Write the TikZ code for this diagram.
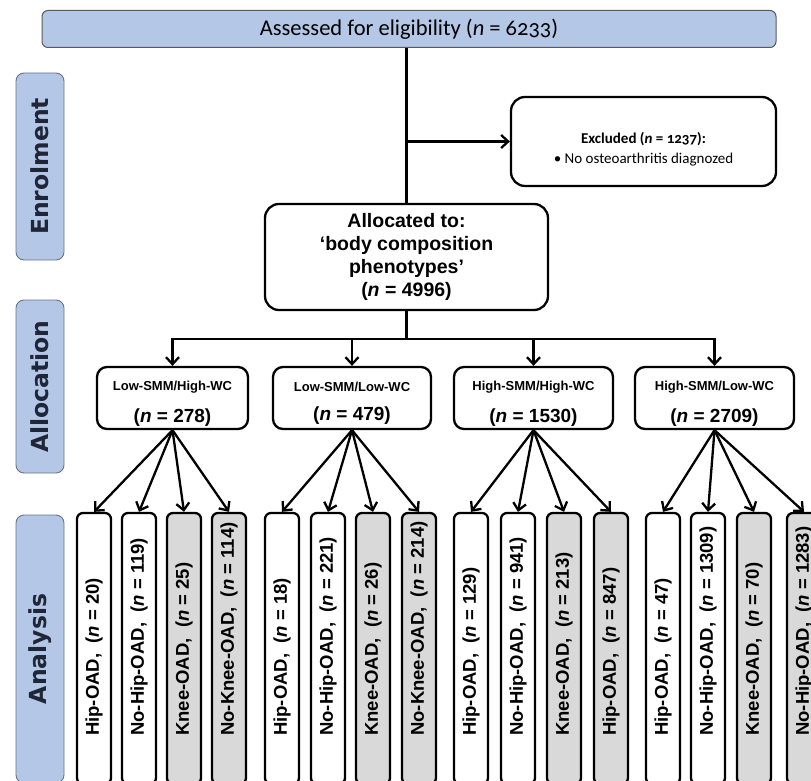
\documentclass[tikz,border=0pt]{standalone}
\usepackage{fontspec}
\usetikzlibrary{arrows.meta,calc}
\newfontfamily\calfont{Carlito}[Numbers=OldStyle]
\newfontfamily\arfont{Liberation Sans}
\newfontfamily\djfont{DejaVu Sans}
\definecolor{sideblue}{RGB}{180,199,231}
\definecolor{sideedge}{RGB}{105,115,135}
\definecolor{sidetext}{RGB}{31,38,55}
\definecolor{leafgray}{RGB}{217,217,217}
\definecolor{topedge}{RGB}{90,90,90}

\begin{document}
\begin{tikzpicture}[x=1pt,y=-1pt,
  ln/.style={line width=2.3pt},
  arr/.style={line width=2.3pt,-{Straight Barb[length=7pt,width=13pt]}},
  topbox/.style={draw=topedge,line width=1pt,fill=sideblue,rounded corners=6pt,
    minimum width=734pt,minimum height=37pt,inner sep=0pt,
    font=\calfont\fontsize{22.5}{22.5}\selectfont},
  sidebox/.style={draw=sideedge,line width=0.9pt,fill=sideblue,rounded corners=8pt,
    rotate=90,minimum height=48pt,inner sep=0pt,text=sidetext,
    font=\djfont\bfseries\fontsize{23.5}{23.5}\selectfont},
  whitebox/.style={draw=black,line width=2.3pt,fill=white,inner sep=0pt},
  grpbox/.style={whitebox,rounded corners=10pt,minimum height=62pt},
  grptxt/.style={align=center,inner sep=0pt,font=\arfont\bfseries},
  leafbox/.style={draw=black,line width=2.3pt,rounded corners=6pt,
    minimum width=34pt,minimum height=271pt,inner sep=0pt},
  leaftext/.style={rotate=90,anchor=west,inner sep=0pt,
    font=\arfont\bfseries\fontsize{18.5}{18.5}\selectfont},
]
\useasboundingbox (0,0) rectangle (811,781);
\clip (0,0) rectangle (811,781);

% top
\node[topbox] (top) at (409,29) {Assessed for eligibility (\textit{n} = 6233)};

% side labels
\node[sidebox,minimum width=187pt] (enr) at (40,166.5) {Enrolment};
\node[sidebox,minimum width=173pt] (allo) at (40,386.5) {Allocation};
\node[sidebox,minimum width=268pt] (ana) at (40,649) {Analysis};

% excluded
\node[whitebox,rounded corners=14pt,minimum width=265pt,minimum height=89pt] (excl) at (643.5,141.5) {};
\node[align=center,inner sep=0pt,font=\calfont\fontsize{15}{19.5}\selectfont] (exclt) at (643.5,149)
  {\textbf{Excluded (\textit{n} = 1237):}\\\textbullet{} No osteoarthritis diagnozed};

% allocated
\node[whitebox,rounded corners=14pt,minimum width=283pt,minimum height=106pt,align=center,
  font=\arfont\bfseries\fontsize{19.5}{22.7}\selectfont] (alloc) at (406.5,257)
  {Allocated to:\\‘body composition\\phenotypes’\\(\textit{n} = 4996)};

% group boxes
\newcommand{\grptext}[2]{{\fontsize{13}{13}\selectfont #1}\\[14pt]{\fontsize{19}{19}\selectfont (\textit{n} = #2)}}
\node[grpbox,minimum width=151pt] (g1) at (172.5,398) {};
\node[grpbox,minimum width=158pt] (g2) at (352,398) {};
\node[grpbox,minimum width=159pt] (g3) at (533.5,398) {};
\node[grpbox,minimum width=159pt] (g4) at (714.5,398) {};
\node[grptxt] (g1t) at (172.5,403.5) {\grptext{Low-SMM/High-WC}{278}};
\node[grptxt] (g2t) at (352,403.5) {\grptext{Low-SMM/Low-WC}{479}};
\node[grptxt] (g3t) at (533.5,403.5) {\grptext{High-SMM/High-WC}{1530}};
\node[grptxt] (g4t) at (714.5,403.5) {\grptext{High-SMM/Low-WC}{2709}};

% leaves
\foreach \nm/\cx/\fc/\txt in {
  a1/94/white/{Hip-OAD,\ \ (\textit{n} = 20)},
  a2/139/white/{No-Hip-OAD,\ \ (\textit{n} = 119)},
  a3/184/leafgray/{Knee-OAD,\ \ (\textit{n} = 25)},
  a4/229/leafgray/{No-Knee-OAD,\ \ (\textit{n} = 114)},
  b1/282/white/{Hip-OAD,\ \ (\textit{n} = 18)},
  b2/328/white/{No-Hip-OAD,\ \ (\textit{n} = 221)},
  b3/373/leafgray/{Knee-OAD,\ \ (\textit{n} = 26)},
  b4/419/leafgray/{No-Knee-OAD,\ \ (\textit{n} = 214)},
  c1/471/white/{Hip-OAD,\ \ (\textit{n} = 129)},
  c2/518/white/{No-Hip-OAD,\ \ (\textit{n} = 941)},
  c3/564/leafgray/{Knee-OAD,\ \ (\textit{n} = 213)},
  c4/611/leafgray/{Hip-OAD,\ \ (\textit{n} = 847)},
  d1/663/white/{Hip-OAD,\ \ (\textit{n} = 47)},
  d2/708/white/{No-Hip-OAD,\ \ (\textit{n} = 1309)},
  d3/754/leafgray/{Knee-OAD,\ \ (\textit{n} = 70)},
  d4/804/leafgray/{No-Hip-OAD,\ \ (\textit{n} = 1283)}}{
  \node[leafbox,fill=\fc] (\nm) at (\cx,648.5) {};
  \node[leaftext] (\nm t) at (\cx,736) {\txt};
}

% connectors
\draw[ln] (top.south -| alloc.north) -- (alloc.north);
\coordinate (exj) at (alloc.north |- excl.west);
\draw[arr] (exj) -- (excl.west);
\coordinate (split) at ($(alloc.south)+(0,28)$);
\foreach \g in {g1,g2,g3,g4}{
  \draw[arr] (alloc.south) -- (split) -| (\g.north);
}
\foreach \g/\l in {g1/a1,g1/a2,g1/a3,g1/a4,g2/b1,g2/b2,g2/b3,g2/b4,
                   g3/c1,g3/c2,g3/c3,g3/c4,g4/d1,g4/d2,g4/d3,g4/d4}{
  \draw[arr] (\g.south) -- (\l.north);
}
\end{tikzpicture}
\end{document}
